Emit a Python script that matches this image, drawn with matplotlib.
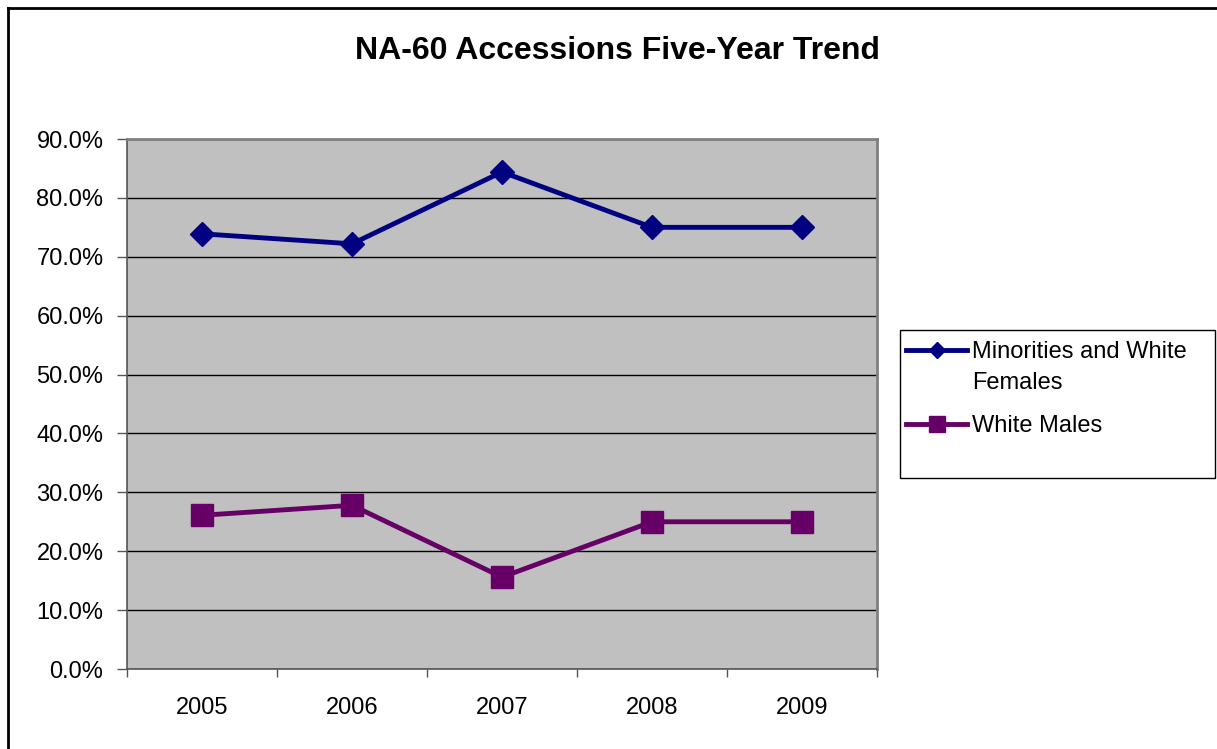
import numpy as np
import matplotlib
matplotlib.use('Agg')
import matplotlib.pyplot as plt
from matplotlib.lines import Line2D
from matplotlib.patches import Rectangle

plt.rcParams['font.family'] = ['Liberation Sans', 'DejaVu Sans']

years      = ['2005', '2006', '2007', '2008', '2009']
minorities = [73.9, 72.2, 84.4, 75.0, 75.0]   # % Minorities and White Females
white_male = [26.1, 27.8, 15.6, 25.0, 25.0]   # % White Males
y_ticks    = np.arange(0, 100, 10)

NAVY   = '#000080'
PURPLE = '#660066'
FS     = 17

fig = plt.figure(figsize=(12.17, 7.49), dpi=100)
ax = fig.add_axes([127 / 1217, 1 - 669 / 749, 750 / 1217, 530 / 749])
ax.set_facecolor('#C0C0C0')

x = np.arange(len(years))
ax.plot(x, minorities, color=NAVY, linewidth=3.5, marker='D', markersize=12,
        zorder=3)
ax.plot(x, white_male, color=PURPLE, linewidth=3.5, marker='s', markersize=16,
        zorder=3)

# axes / grid
ax.set_xlim(-0.5, len(years) - 0.5)
ax.set_ylim(0, 90)
ax.set_yticks(y_ticks)
ax.set_yticklabels([f'{v:.1f}%' for v in y_ticks], fontsize=FS)
ax.yaxis.grid(True, color='black', linewidth=1)
ax.set_axisbelow(True)

ax.set_xticks(np.arange(-0.5, len(years), 1.0))
ax.set_xticklabels([])
ax.set_xticks(x, minor=True)
ax.set_xticklabels(years, minor=True, fontsize=FS)
ax.tick_params(axis='x', which='minor', length=0, pad=20)
ax.tick_params(axis='x', which='major', length=6, width=1, color='#555555',
               direction='out')
ax.tick_params(axis='y', which='major', length=7, width=1, color='#555555',
               direction='out', pad=10)

for side in ['left', 'bottom']:
    ax.spines[side].set_color('#555555')
    ax.spines[side].set_linewidth(1.2)
for side in ['top', 'right']:
    ax.spines[side].set_color('#808080')
    ax.spines[side].set_linewidth(2)

fig.text(617 / 1217, 1 - 51 / 749, 'NA-60 Accessions Five-Year Trend',
         ha='center', va='center', fontsize=23, fontweight='bold')

# legend: box drawn separately, entries placed inside
fig.add_artist(Rectangle((900 / 1217, 1 - 478 / 749), 315 / 1217, 148 / 749,
                         transform=fig.transFigure, facecolor='white',
                         edgecolor='black', linewidth=1, zorder=1))
leg_kw = dict(loc='upper left', bbox_transform=fig.transFigure,
              borderaxespad=0, fontsize=FS, frameon=False, handlelength=2.6,
              handletextpad=0.2, borderpad=0, labelspacing=0.4)
leg1 = fig.legend([Line2D([], [], color=NAVY, linewidth=3.5, marker='D', markersize=8),
                   Line2D([], [], linestyle='none')],
                  ['Minorities and White', 'Females'],
                  bbox_to_anchor=(906 / 1217, 1 - 341 / 749), **leg_kw)
leg2 = fig.legend([Line2D([], [], color=PURPLE, linewidth=3.5, marker='s', markersize=11)],
                  ['White Males'],
                  bbox_to_anchor=(906 / 1217, 1 - 415 / 749), **leg_kw)
leg1.set_zorder(2)
leg2.set_zorder(2)

# outer chart border (left and top only visible)
fig.add_artist(Line2D([8 / 1217, 8 / 1217], [0, 1 - 8 / 749],
                      transform=fig.transFigure, color='black', linewidth=2))
fig.add_artist(Line2D([8 / 1217, 1], [1 - 8 / 749, 1 - 8 / 749],
                      transform=fig.transFigure, color='black', linewidth=2))

fig.savefig('out.png', dpi=100)
